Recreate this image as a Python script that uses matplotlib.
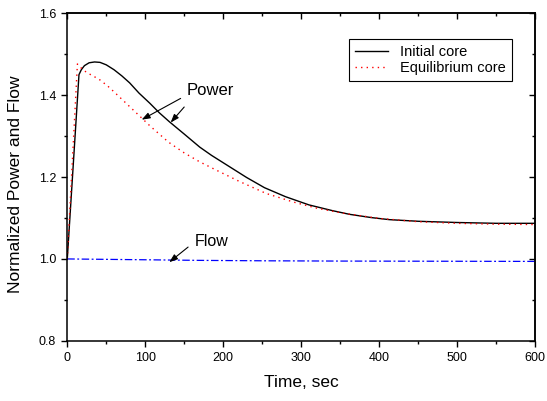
import matplotlib
matplotlib.use("Agg")
import matplotlib.pyplot as plt
from matplotlib.ticker import MultipleLocator

plt.rcParams['font.family'] = ['Liberation Sans', 'DejaVu Sans']

# Initial core (solid black)
t_init = [0, 15, 18, 22, 28, 35, 42, 50, 60, 70, 80, 92, 106, 118, 131, 150,
          170, 185, 200, 215, 230, 253, 280, 310, 340, 362, 390, 413, 450,
          500, 550, 600]
p_init = [1.0, 1.45, 1.462, 1.472, 1.479, 1.481, 1.480, 1.474, 1.462, 1.447,
          1.430, 1.405, 1.380, 1.357, 1.335, 1.305, 1.273, 1.253, 1.235,
          1.217, 1.199, 1.174, 1.152, 1.132, 1.118, 1.109, 1.101, 1.096,
          1.092, 1.089, 1.087, 1.087]

# Equilibrium core (red dotted)
t_eq = [0, 13, 18, 25, 33, 42, 52, 60, 70, 80, 95, 106, 118, 130, 150, 170,
        191, 220, 255, 290, 320, 353, 400, 450, 500, 550, 600]
p_eq = [1.0, 1.476, 1.466, 1.455, 1.447, 1.437, 1.422, 1.408, 1.390, 1.372,
        1.345, 1.325, 1.305, 1.285, 1.259, 1.237, 1.217, 1.190, 1.160,
        1.139, 1.124, 1.112, 1.099, 1.091, 1.087, 1.085, 1.084]

# Flow (blue dash-dot)
t_flow = [0, 50, 100, 170, 250, 350, 450, 600]
flow = [1.0, 0.999, 0.998, 0.9965, 0.9955, 0.9948, 0.9945, 0.994]

fig = plt.figure(figsize=(5.47, 4.01), dpi=100)
ax = fig.add_axes([0.123, 0.150, 0.855, 0.817])

ax.plot(t_init, p_init, color='black', lw=1.0, label='Initial core')
ax.plot(t_eq, p_eq, color='red', lw=1.0, ls=(0, (1, 3)), label='Equilibrium core')
ax.plot(t_flow, flow, color='blue', lw=0.9, ls=(0, (6, 2, 1.5, 2)))

ax.set_xlim(0, 600)
ax.set_ylim(0.8, 1.6)
ax.xaxis.set_major_locator(MultipleLocator(100))
ax.xaxis.set_minor_locator(MultipleLocator(50))
ax.yaxis.set_major_locator(MultipleLocator(0.2))
ax.yaxis.set_minor_locator(MultipleLocator(0.1))
ax.tick_params(which='major', direction='out', length=4.5, width=1, labelsize=9)
ax.tick_params(which='minor', direction='out', length=2.5, width=1)
for s in ax.spines.values():
    s.set_linewidth(1.1)

# mirrored ticks on top/right pointing inward
top = ax.secondary_xaxis('top')
top.xaxis.set_major_locator(MultipleLocator(100))
top.xaxis.set_minor_locator(MultipleLocator(50))
top.tick_params(which='major', direction='in', length=4.5, width=1, labeltop=False)
top.tick_params(which='minor', direction='in', length=2.5, width=1)
right = ax.secondary_yaxis('right')
right.yaxis.set_major_locator(MultipleLocator(0.2))
right.yaxis.set_minor_locator(MultipleLocator(0.1))
right.tick_params(which='major', direction='in', length=4.5, width=1, labelright=False)
right.tick_params(which='minor', direction='in', length=2.5, width=1)
top.spines['top'].set_linewidth(1.1)
right.spines['right'].set_linewidth(1.1)

ax.set_xlabel('Time, sec', fontsize=12.5, labelpad=8)
ax.set_ylabel('Normalized Power and Flow', fontsize=12.5)
ax.yaxis.set_label_coords(-0.095, 0.477)

# annotations
arrow = dict(arrowstyle='-|>,head_length=0.5,head_width=0.18', color='black', lw=0.8,
             shrinkA=0, shrinkB=0)
ax.text(183, 1.411, 'Power', fontsize=12, ha='center', va='center')
ax.annotate('', xy=(95.4, 1.340), xytext=(145.4, 1.392), arrowprops=arrow)
ax.annotate('', xy=(132.6, 1.333), xytext=(150, 1.371), arrowprops=arrow)
ax.text(185.5, 1.043, 'Flow', fontsize=11.5, ha='center', va='center')
ax.annotate('', xy=(130.8, 0.992), xytext=(155, 1.029), arrowprops=arrow)

leg = ax.legend(loc='upper right', bbox_to_anchor=(0.95, 0.921), borderaxespad=0,
                fancybox=False, edgecolor='black', fontsize=10.5, handlelength=2.3,
                framealpha=1, borderpad=0.4, labelspacing=0.15)
leg.get_frame().set_linewidth(0.8)

fig.savefig('out.png', dpi=100)
